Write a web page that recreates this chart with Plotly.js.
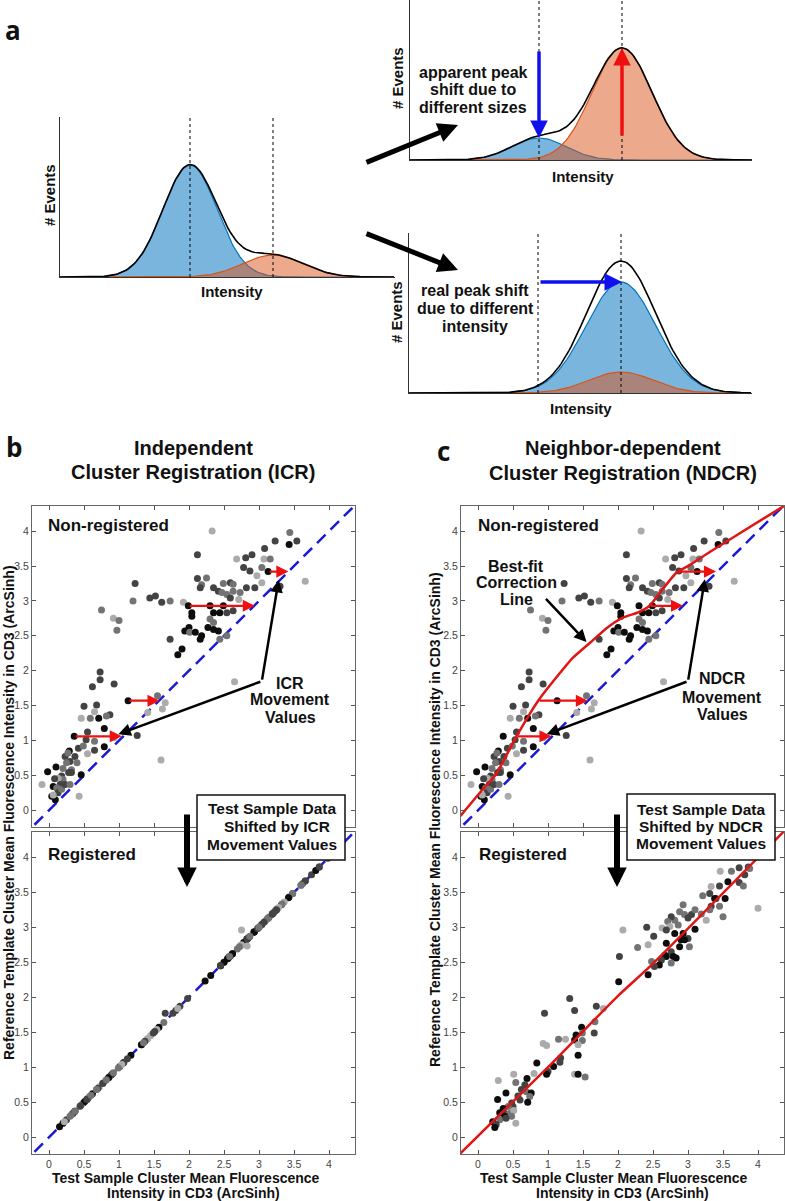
<!DOCTYPE html>
<html>
<head>
<meta charset="utf-8">
<script src="https://cdn.plot.ly/plotly-3.0.1.min.js"></script>
<style>
  html, body { margin: 0; padding: 0; background: #fff; }
  #fig { width: 785px; height: 1201px; }
</style>
</head>
<body>
<div id="fig"></div>
<script>
// ---- panel a: schematic peaks, [centre, height, width] in plot units ----
const leftBlue = [130, 112, 27];
const leftOrange = [213, 22, 30];
const upBlue = [129, 22, 27];
const upOrange = [212, 112, 30];
const downBlue = [212, 111, 35];
const downOrange = [212, 21, 32];
const leftMarks = [130, 213];
const upMarks = [129, 212];
const downMarks = [129, 212];

// ---- panels b/c: test sample clusters (non-registered) ----
const testX = [
  // upper cluster
  2.33,2.12,2.68,2.81,2.90,3.08,3.23,3.44,3.43,3.54,
  3.07,3.16,2.78,2.87,3.04,3.13,2.97,2.12,2.25,2.18,
  2.16,2.35,2.49,2.59,2.63,2.42,2.47,2.54,2.59,2.63,
  2.73,2.71,2.82,2.94,1.92,1.99,2.04,2.04,2.30,2.35,
  2.44,2.49,2.54,2.63,2.30,2.35,2.27,2.35,2.42,2.44,
  2.54,1.94,2.00,2.01,2.09,2.16,2.18,1.73,1.90,1.84,
  3.30,3.66,3.04,
  // middle
  1.23,1.20,1.44,1.52,1.61,1.73,0.75,0.92,1.00,0.97,
  0.73,0.73,0.62,0.93,2.65,1.13,1.55,1.66,1.62,1.41,
  0.68,0.50,0.65,0.59,0.46,0.71,0.87,0.82,0.79,0.55,
  0.53,0.36,1.26,0.93,0.79,0.65,0.55,0.65,0.42,0.29,
  0.49,1.60,0.43,-0.10,
  // lower cluster
  -0.02,0.10,0.23,0.30,0.37,0.40,0.25,0.32,0.28,0.18,
  0.20,0.13,0.06,0.16,0.11,0.04,0.09,0.13,0.06,0.18,
  0.23,0.46,0.32,0.30,0.20,0.08,0.27
];
const refY = [
  4.00,3.66,3.60,3.62,3.66,3.75,3.86,3.98,3.81,3.86,
  3.60,3.60,3.48,3.43,3.48,3.42,3.36,3.32,3.33,3.23,
  3.19,3.19,3.25,3.26,3.24,3.14,3.12,3.09,3.04,3.14,
  3.12,3.02,3.19,3.19,2.98,2.93,2.83,2.78,2.93,2.83,
  2.83,2.93,2.83,2.86,2.74,2.69,2.62,2.59,2.57,2.45,
  2.50,2.57,2.62,2.55,2.55,2.45,2.50,2.45,2.31,2.23,
  3.21,3.28,3.26,
  3.25,3.00,3.04,3.07,2.98,3.00,2.87,2.75,2.72,2.58,
  1.98,1.87,1.77,1.81,1.84,1.57,1.64,1.54,1.45,1.40,
  1.51,1.49,1.41,1.32,1.32,1.32,1.37,1.35,1.17,1.12,
  1.01,1.06,1.07,1.04,0.91,0.99,0.81,0.86,0.89,0.85,
  0.92,0.72,0.20,0.37,
  0.55,0.62,0.77,0.70,0.77,0.68,0.68,0.58,0.54,0.49,
  0.44,0.46,0.34,0.37,0.32,0.20,0.15,0.25,0.22,0.30,
  0.37,0.51,0.54,0.37,0.60,0.45,0.82
];
// 0 = black, 1 = dark grey, 2 = mid grey, 3 = light grey
const testShade = [
  3,1,3,1,1,1,1,2,0,1,
  3,2,1,1,2,0,3,1,2,2,
  1,1,2,1,2,1,2,2,1,2,
  2,3,1,1,3,0,0,0,0,0,
  0,0,1,1,2,2,0,0,0,2,
  2,0,0,2,0,0,0,1,0,0,
  1,3,3,
  1,2,1,1,1,2,2,3,2,2,
  1,1,1,1,3,0,2,3,3,3,
  1,1,3,2,3,0,1,2,0,1,
  1,0,1,3,0,2,3,1,1,0,
  2,3,3,3,
  0,0,1,1,1,2,2,2,1,1,
  2,3,0,1,2,0,0,1,3,2,
  1,0,1,2,2,1,2
];

// ICR registered: a few clusters left slightly off the diagonal
const icrOffX = [2.75, 1.66, 2.83];
const icrOffY = [2.96, 1.77, 2.73];
const icrOffShade = [3, 1, 3];

// NDCR registered clusters
const regX = [
  3.46,3.62,3.73,3.86,3.81,3.88,3.73,3.79,3.57,3.45,
  3.33,3.21,3.31,3.40,3.53,3.38,3.45,4.00,3.33,3.31,
  3.19,3.05,3.10,2.93,2.95,3.00,2.88,2.81,2.76,2.71,
  2.74,2.86,2.63,2.41,2.07,2.02,2.28,2.43,2.51,2.69,
  2.81,2.93,3.10,3.00,2.90,2.95,3.02,2.69,2.88,2.76,
  2.79,2.83,2.67,2.69,2.62,2.59,2.48,2.52,2.76,2.43,
  2.01,3.50,3.26,
  1.31,1.38,0.95,1.69,1.79,1.67,1.66,1.48,1.49,1.49,
  1.40,1.38,1.43,1.43,1.15,1.25,0.93,0.98,1.18,1.17,
  1.08,0.84,1.00,0.98,1.38,1.43,1.53,0.80,
  0.51,0.54,0.29,0.70,0.67,0.62,0.69,0.76,0.74,0.57,
  0.40,0.28,0.60,0.71,0.48,0.50,0.43,0.36,0.31,0.38,
  0.45,0.51,0.48,0.38,0.21,0.31,0.26,0.24,0.54,0.40
];
const regY = [
  3.80,3.80,3.85,3.86,3.75,3.84,3.64,3.59,3.65,3.59,
  3.58,3.45,3.48,3.41,3.41,3.41,3.30,3.27,3.30,3.25,
  3.19,3.18,3.25,3.32,3.18,3.13,3.22,3.10,3.15,3.08,
  3.01,3.03,2.99,3.00,2.96,2.58,2.71,2.75,2.87,2.96,
  2.91,2.91,2.97,2.84,2.82,2.82,2.72,2.77,2.72,2.65,
  2.58,2.56,2.60,2.58,2.53,2.46,2.51,2.44,2.49,2.32,
  2.22,3.15,3.10,
  1.98,1.81,1.77,1.87,1.84,1.65,1.49,1.57,1.49,1.38,
  1.46,1.39,1.32,1.17,1.40,1.40,1.34,1.31,1.13,1.07,
  1.01,1.06,0.94,0.90,0.90,0.90,0.86,0.91,
  0.90,0.78,0.81,0.84,0.75,0.68,0.65,0.63,0.58,0.59,
  0.63,0.54,0.53,0.50,0.49,0.44,0.44,0.41,0.35,0.34,
  0.34,0.38,0.30,0.30,0.22,0.25,0.18,0.14,0.20,0.27
];
const regShade = [
  3,2,1,1,1,2,1,2,0,1,
  3,2,1,1,0,0,2,3,1,2,
  2,1,2,2,2,1,2,2,1,2,
  3,2,3,1,3,1,2,3,1,1,
  0,0,0,1,0,0,2,0,0,1,
  0,0,0,0,1,0,2,1,2,0,
  0,2,3,
  1,1,1,1,3,2,1,0,2,2,
  0,0,3,0,2,3,3,3,1,1,
  0,0,1,0,3,0,2,3,
  3,2,3,0,1,1,2,0,2,1,
  0,0,1,0,1,1,2,0,0,1,
  2,3,2,0,0,2,1,0,3,1
];

// best-fit correction line (panel c)
const fitX = [-0.25,0.05,0.26,0.55,0.86,1.10,1.35,1.60,1.85,2.07,2.30,2.45,2.64,2.83,3.05,3.31,3.74,4.37];
const fitY = [-0.08,0.28,0.52,1.06,1.57,1.88,2.18,2.40,2.62,2.76,2.84,2.93,3.17,3.40,3.53,3.70,3.97,4.36];
const regFitX = [-0.25, 1.00, 2.00, 2.50, 4.40];
const regFitY = [-0.23, 1.00, 2.02, 2.48, 4.40];
const diag = [-0.4, 4.5];

// movement arrows
const moveY = [1.06, 1.57, 2.93, 3.42];
const icrFrom = [0.36, 1.13, 1.99, 3.13];
const icrTo = [1.04, 1.58, 2.94, 3.42];
const ndcrFrom = [0.55, 0.86, 2.45, 2.83];
const ndcrTo = [1.05, 1.57, 2.93, 3.40];

// ---- helpers ----
const W = 785, H = 1201;
const fx = p => p / W;
const fy = p => 1 - p / H;
const FONT = 'Liberation Sans, Arial, Helvetica, sans-serif';
const GRAYS = ['#0d0d0d', '#434343', '#737373', '#ababab'];
const BLUE_LINE = 'rgb(0,114,189)', ORANGE_LINE = 'rgb(217,83,25)';
const BLUE_FILL = 'rgba(0,114,189,0.52)', ORANGE_FILL = 'rgba(217,83,25,0.5)';
const ARROW_BLUE = '#1010ee', ARROW_RED = '#ee1010';

function gauss(peak, xmax) {
    const xs = [], ys = [];
    for (let x = 0; x <= xmax; x += 2) {
        xs.push(x);
        ys.push(peak[1] * Math.exp(-0.5 * Math.pow((x - peak[0]) / peak[2], 2)));
    }
    return { xs, ys };
}

function peakTraces(blue, orange, xmax, n) {
    const b = gauss(blue, xmax), o = gauss(orange, xmax);
    const tot = b.ys.map((v, i) => v + o.ys[i]);
    const ax = { xaxis: 'x' + n, yaxis: 'y' + n, hoverinfo: 'skip', showlegend: false, type: 'scatter', mode: 'lines' };
    return [
        Object.assign({ x: b.xs, y: b.ys, fill: 'tozeroy', fillcolor: BLUE_FILL, line: { color: BLUE_LINE, width: 1.2 } }, ax),
        Object.assign({ x: o.xs, y: o.ys, fill: 'tozeroy', fillcolor: ORANGE_FILL, line: { color: ORANGE_LINE, width: 1.2 } }, ax),
        Object.assign({ x: b.xs, y: tot, line: { color: '#000', width: 1.6 } }, ax)
    ];
}

function sketchAxis(x0, x1, range, anchor) {
    return {
        domain: [x0, x1], range: range, anchor: anchor,
        showline: true, linecolor: '#333', linewidth: 1.2,
        showgrid: false, zeroline: false, ticks: '', showticklabels: false, fixedrange: true
    };
}

function frameAxis(domain, anchor, showLabels) {
    return {
        domain: domain, anchor: anchor, range: [-0.243, 4.371],
        tick0: 0, dtick: 0.5, ticks: 'inside', ticklen: 4, tickcolor: '#555',
        showline: true, mirror: 'allticks', linecolor: '#666', linewidth: 1,
        showgrid: false, zeroline: false, showticklabels: showLabels,
        tickfont: { family: FONT, size: 10.5, color: '#444' }, fixedrange: true
    };
}

function dots(x, y, shade, n) {
    return {
        x: x, y: y, type: 'scatter', mode: 'markers', xaxis: 'x' + n, yaxis: 'y' + n,
        marker: { size: 7, color: shade.map(s => GRAYS[s]), line: { width: 0 } },
        hoverinfo: 'skip', showlegend: false
    };
}

function dashedDiag(n) {
    return {
        x: diag, y: diag, type: 'scatter', mode: 'lines', xaxis: 'x' + n, yaxis: 'y' + n,
        line: { color: '#1a1ad6', width: 2.5, dash: '12px,7px' }, hoverinfo: 'skip', showlegend: false
    };
}

function redLine(x, y, n) {
    return {
        x: x, y: y, type: 'scatter', mode: 'lines', xaxis: 'x' + n, yaxis: 'y' + n,
        line: { color: '#e01515', width: 2.5, shape: 'spline', smoothing: 0.5 },
        hoverinfo: 'skip', showlegend: false
    };
}

function label(text, x, y, size, extra) {
    return Object.assign({
        text: text, x: fx(x), y: fy(y), xref: 'paper', yref: 'paper', showarrow: false,
        xanchor: 'center', yanchor: 'middle',
        font: { family: FONT, size: size, color: '#111', weight: 700 }
    }, extra || {});
}

function paperArrow(hx, hy, tx, ty, color, width, size) {
    return {
        x: fx(hx), y: fy(hy), xref: 'paper', yref: 'paper', ax: tx - hx, ay: ty - hy,
        text: '', showarrow: true, arrowhead: 2, arrowsize: size, arrowwidth: width,
        arrowcolor: color, standoff: 0, startstandoff: 0
    };
}

function dataArrow(n, hx, hy, tx, ty, color, width, size) {
    return {
        x: hx, y: hy, xref: 'x' + n, yref: 'y' + n, ax: tx, ay: ty, axref: 'x' + n, ayref: 'y' + n,
        text: '', showarrow: true, arrowhead: 2, arrowsize: size, arrowwidth: width,
        arrowcolor: color, standoff: 0, startstandoff: 0
    };
}

// ---- traces ----
const traces = [
    ...peakTraces(leftBlue, leftOrange, 335, ''),
    ...peakTraces(upBlue, upOrange, 342, '2'),
    ...peakTraces(downBlue, downOrange, 343, '3'),
    // b top
    dashedDiag('4'),
    dots(testX, refY, testShade, '4'),
    // b bottom (ICR puts every cluster on the diagonal)
    dashedDiag('5'),
    dots(refY, refY, testShade, '5'),
    dots(icrOffX, icrOffY, icrOffShade, '5'),
    // c top
    dashedDiag('6'),
    dots(testX, refY, testShade, '6'),
    redLine(fitX, fitY, '6'),
    // c bottom
    dots(regX, regY, regShade, '7'),
    redLine(regFitX, regFitY, '7')
];

// ---- shapes ----
const shapes = [];
function marks(list, n, top) {
    list.forEach(v => shapes.push({
        type: 'line', xref: 'x' + n, yref: 'y' + n, x0: v, x1: v, y0: 0, y1: top,
        line: { color: '#000', width: 1, dash: 'dot' }, layer: 'above'
    }));
}
marks(leftMarks, '', 160);
marks(upMarks, '2', 160);
marks(downMarks, '3', 160);
[[197, 345, 795, 860], [627, 775, 794, 860]].forEach(b => shapes.push({
    type: 'rect', xref: 'paper', yref: 'paper', x0: fx(b[0]), x1: fx(b[1]), y0: fy(b[3]), y1: fy(b[2]),
    line: { color: '#111', width: 1.5 }, fillcolor: '#fff', layer: 'above'
}));

// ---- annotations ----
const panelFont = { family: 'Open Sans, Liberation Sans, sans-serif', size: 26, color: '#111', weight: 700 };
const yTitle = 'Reference Template Cluster Mean Fluorescence Intensity in CD3 (ArcSinh)';
const annotations = [
    label('a', 13, 30, 26, { font: panelFont }),
    label('b', 14, 447, 26, { font: panelFont }),
    label('c', 443, 451, 26, { font: panelFont }),

    // panel a
    label('# Events', 49, 195, 15, { textangle: -90 }),
    label('Intensity', 232, 292, 15),
    label('# Events', 397, 78, 15, { textangle: -90 }),
    label('Intensity', 583, 177, 15),
    label('# Events', 397, 312, 15, { textangle: -90 }),
    label('Intensity', 581, 408, 15),
    label('apparent peak', 473, 72, 16),
    label('shift due to', 473, 90, 16),
    label('different sizes', 473, 107, 16),
    label('real peak shift', 475, 290, 16),
    label('due to different', 475, 308, 16),
    label('intensity', 475, 326, 16),
    paperArrow(458, 125, 365, 163, '#000', 5, 0.8),
    paperArrow(458, 270, 365, 233, '#000', 5, 0.8),
    paperArrow(539, 138, 539, 50, ARROW_BLUE, 3.5, 1),
    paperArrow(622, 48, 622, 137, ARROW_RED, 3.5, 1),
    paperArrow(622, 282, 539, 282, ARROW_BLUE, 3.5, 1),

    // panel titles
    label('Independent', 193, 448, 20),
    label('Cluster Registration (ICR)', 193, 472, 20),
    label('Neighbor-dependent', 623, 448, 20),
    label('Cluster Registration (NDCR)', 623, 473, 20),

    // inner labels
    label('Non-registered', 46, 526, 17, { xanchor: 'left' }),
    label('Registered', 46, 854, 17, { xanchor: 'left' }),
    label('Non-registered', 476, 526, 17, { xanchor: 'left' }),
    label('Registered', 477, 854, 17, { xanchor: 'left' }),

    label('ICR', 290, 683, 16),
    label('Movement', 290, 700, 16),
    label('Values', 290, 717, 16),
    label('NDCR', 722, 678, 16),
    label('Movement', 722, 697, 16),
    label('Values', 722, 714, 16),
    label('Best-fit', 516, 566, 16),
    label('Correction', 516, 582, 16),
    label('Line', 516, 599, 16),

    label('Test Sample Data', 272, 808, 15.5),
    label('Shifted by ICR', 277, 826, 15.5),
    label('Movement Values', 272, 844, 15.5),
    label('Test Sample Data', 701, 809, 15.5),
    label('Shifted by NDCR', 701, 827, 15.5),
    label('Movement Values', 701, 843, 15.5),

    paperArrow(187, 887, 187, 813, '#000', 6, 0.65),
    paperArrow(617, 887, 617, 813, '#000', 6, 0.65),

    // axis titles
    label(yTitle, 9, 813, 14, { textangle: -90 }),
    label(yTitle, 435, 820, 14, { textangle: -90 }),
    label('Test Sample Cluster Mean Fluorescence', 186, 1178, 14),
    label('Intensity in CD3 (ArcSinh)', 193, 1193, 14),
    label('Test Sample Cluster Mean Fluorescence', 614, 1178, 14),
    label('Intensity in CD3 (ArcSinh)', 622, 1193, 14),

    // movement value pointers
    dataArrow('4', 0.99, 1.09, 3.04, 1.85, '#000', 2.5, 1),
    dataArrow('4', 3.28, 3.30, 3.04, 1.85, '#000', 2.5, 1),
    dataArrow('6', 0.98, 1.09, 3.00, 1.85, '#000', 2.5, 1),
    dataArrow('6', 3.24, 3.31, 3.00, 1.85, '#000', 2.5, 1),
    dataArrow('6', 1.55, 2.41, 0.95, 3.05, '#000', 2.5, 1)
];
moveY.forEach((y, i) => {
    annotations.push(dataArrow('4', icrTo[i], y, icrFrom[i], y, ARROW_RED, 2.2, 1.1));
    annotations.push(dataArrow('6', ndcrTo[i], y, ndcrFrom[i], y, ARROW_RED, 2.2, 1.1));
});

// ---- layout ----
const layout = {
    width: W, height: H,
    margin: { l: 0, r: 0, t: 0, b: 0, pad: 0 },
    paper_bgcolor: '#fff', plot_bgcolor: 'rgba(0,0,0,0)',
    showlegend: false,
    xaxis: sketchAxis(fx(60), fx(395), [0, 335], 'y'),
    yaxis: sketchAxis(fy(277), fy(117), [0, 160], 'x'),
    xaxis2: sketchAxis(fx(410), fx(752), [0, 342], 'y2'),
    yaxis2: sketchAxis(fy(160), 1, [0, 160], 'x2'),
    xaxis3: sketchAxis(fx(409), fx(752), [0, 343], 'y3'),
    yaxis3: sketchAxis(fy(393), fy(233), [0, 160], 'x3'),
    xaxis4: frameAxis([fx(32), fx(355)], 'y4', false),
    yaxis4: Object.assign(frameAxis([fy(827), fy(506)], 'x4', true), { range: [-0.24, 4.36] }),
    xaxis5: frameAxis([fx(32), fx(355)], 'y5', true),
    yaxis5: Object.assign(frameAxis([fy(1154), fy(832)], 'x5', true), { range: [-0.24, 4.36] }),
    xaxis6: frameAxis([fx(461), fx(784)], 'y6', false),
    yaxis6: Object.assign(frameAxis([fy(827), fy(506)], 'x6', true), { range: [-0.24, 4.36] }),
    xaxis7: frameAxis([fx(461), fx(784)], 'y7', true),
    yaxis7: Object.assign(frameAxis([fy(1154), fy(832)], 'x7', true), { range: [-0.24, 4.36] }),
    shapes: shapes,
    annotations: annotations
};

Plotly.newPlot('fig', traces, layout, { staticPlot: true, displayModeBar: false });
</script>
</body>
</html>
